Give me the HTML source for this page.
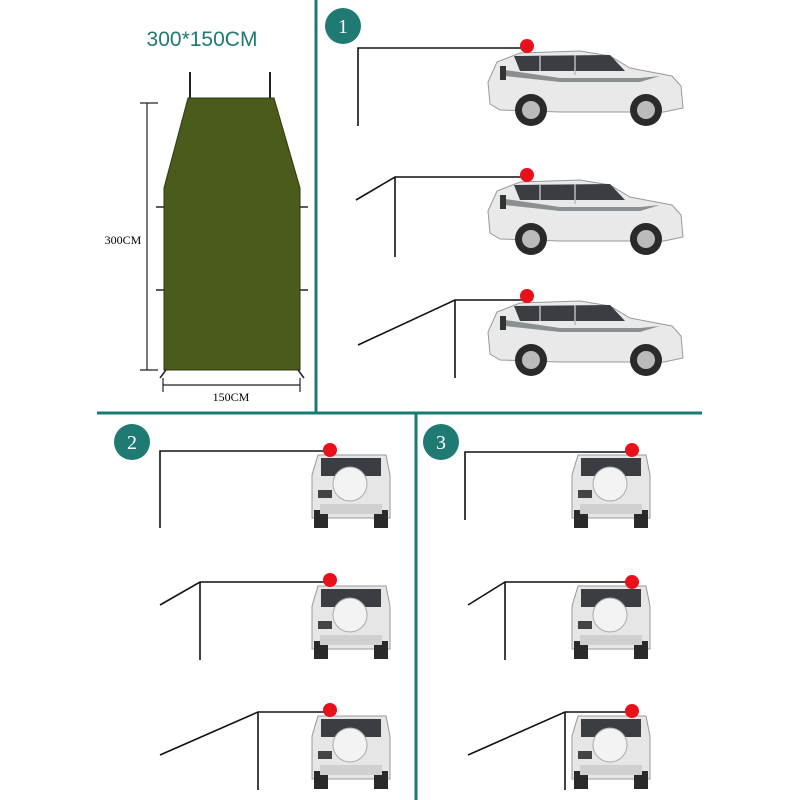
<!DOCTYPE html>
<html><head><style>body{margin:0;background:#fff}svg{display:block}</style></head>
<body>
<svg width="800" height="800" viewBox="0 0 800 800" xmlns="http://www.w3.org/2000/svg" font-family="Liberation Sans, sans-serif">
<defs>
<g id="side">
  <path d="M497,62 L520,53 L580,51 L610,56 L630,68 L672,76 L681,86 L683,108 L664,112 L632,112 L560,112 L500,110 L490,104 L488,82 Z" fill="#e9e9e9" stroke="#999" stroke-width="1"/>
  <path d="M514,56 L610,55 L625,71 L520,71 Z" fill="#3a3d42"/>
  <line x1="540" y1="55" x2="540" y2="71" stroke="#bbb" stroke-width="1.5"/>
  <line x1="575" y1="55" x2="575" y2="75" stroke="#bbb" stroke-width="1.5"/>
  <path d="M505,70 L560,78 L640,78 L660,76 L640,82 L560,82 L505,76Z" fill="#8a8f92"/>
  <rect x="500" y="66" width="6" height="14" fill="#333"/>
  <circle cx="531" cy="110" r="16" fill="#2a2a2a"/><circle cx="531" cy="110" r="9" fill="#bbb"/>
  <circle cx="646" cy="110" r="16" fill="#2a2a2a"/><circle cx="646" cy="110" r="9" fill="#bbb"/>
</g>
<g id="rear">
  <path d="M318,455 L386,455 L390,475 L390,518 L312,518 L312,475 Z" fill="#e6e6e6" stroke="#999"/>
  <rect x="321" y="458" width="60" height="18" fill="#3a3d42"/>
  <circle cx="350" cy="484" r="17" fill="#f3f3f3" stroke="#aaa"/>
  <rect x="318" y="490" width="14" height="8" fill="#444"/>
  <rect x="314" y="510" width="14" height="18" fill="#2a2a2a"/>
  <rect x="374" y="510" width="14" height="18" fill="#2a2a2a"/>
  <rect x="320" y="504" width="62" height="10" fill="#d0d0d0"/>
</g>
</defs>
<g stroke="#1a7a70" stroke-width="3">
  <line x1="316" y1="0" x2="316" y2="413"/>
  <line x1="97" y1="413" x2="702" y2="413"/>
  <line x1="416" y1="413" x2="416" y2="800"/>
</g>
<g fill="#1e7a72">
  <circle cx="343" cy="26" r="18"/><circle cx="132" cy="442" r="18"/><circle cx="441" cy="442" r="18"/>
</g>
<g fill="#fff" font-family="Liberation Serif, serif" font-size="20" text-anchor="middle">
  <text x="343" y="33">1</text><text x="132" y="449">2</text><text x="441" y="449">3</text>
</g>
<text x="202" y="46" fill="#1e7a72" font-size="21" text-anchor="middle">300*150CM</text>
<!-- tarp -->
<g stroke="#222" stroke-width="2">
  <line x1="190" y1="72" x2="190" y2="100"/><line x1="270" y1="72" x2="270" y2="100"/>
</g>
<path d="M188,98 L274,98 L300,188 L300,370 L164,370 L164,188 Z" fill="#4a5b1c" stroke="#2f3a12"/>
<g stroke="#222" stroke-width="1.5">
  <line x1="156" y1="207" x2="164" y2="207"/><line x1="300" y1="207" x2="308" y2="207"/>
  <line x1="156" y1="290" x2="164" y2="290"/><line x1="300" y1="290" x2="308" y2="290"/>
  <line x1="160" y1="378" x2="166" y2="370"/><line x1="304" y1="378" x2="298" y2="370"/>
</g>
<g stroke="#222" stroke-width="1.2">
  <line x1="147" y1="103" x2="147" y2="370"/><line x1="140" y1="103" x2="158" y2="103"/><line x1="140" y1="370" x2="158" y2="370"/>
  <line x1="163" y1="385" x2="300" y2="385"/><line x1="163" y1="378" x2="163" y2="392"/><line x1="300" y1="378" x2="300" y2="392"/>
</g>
<text x="123" y="244" font-family="Liberation Serif, serif" font-size="12" text-anchor="middle">300CM</text>
<text x="231" y="401" font-family="Liberation Serif, serif" font-size="12" text-anchor="middle">150CM</text>
<!-- cars -->
<use href="#side"/><use href="#side" y="129"/><use href="#side" y="250"/>
<use href="#rear"/><use href="#rear" y="131"/><use href="#rear" y="261"/>
<use href="#rear" x="260"/><use href="#rear" x="260" y="131"/><use href="#rear" x="260" y="261"/>
<!-- lines -->
<g stroke="#111" stroke-width="1.6" fill="none">
  <polyline points="358,126 358,48 527,48"/>
  <polyline points="356,200 395,177 527,177"/><line x1="395" y1="177" x2="395" y2="257"/>
  <polyline points="358,345 455,300 527,300"/><line x1="455" y1="300" x2="455" y2="378"/>
  <polyline points="160,528 160,451 330,451"/>
  <polyline points="160,605 200,582 330,582"/><line x1="200" y1="582" x2="200" y2="660"/>
  <polyline points="160,755 258,712 330,712"/><line x1="258" y1="712" x2="258" y2="790"/>
  <polyline points="465,520 465,452 632,452"/>
  <polyline points="468,605 505,582 632,582"/><line x1="505" y1="582" x2="505" y2="660"/>
  <polyline points="468,755 565,712 632,712"/><line x1="565" y1="712" x2="565" y2="790"/>
</g>
<g fill="#e8101a">
  <circle cx="527" cy="46" r="7"/><circle cx="527" cy="175" r="7"/><circle cx="527" cy="296" r="7"/>
  <circle cx="330" cy="450" r="7"/><circle cx="330" cy="580" r="7"/><circle cx="330" cy="710" r="7"/>
  <circle cx="632" cy="450" r="7"/><circle cx="632" cy="582" r="7"/><circle cx="632" cy="711" r="7"/>
</g>
</svg>
</body></html>
